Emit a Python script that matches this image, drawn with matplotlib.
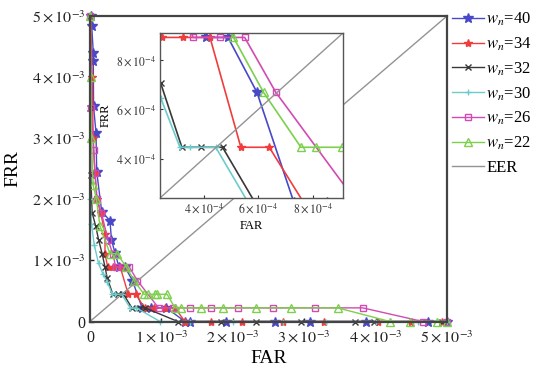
import matplotlib
matplotlib.use('Agg')
import matplotlib.pyplot as plt
import numpy as np

plt.rcParams['font.family'] = 'serif'
plt.rcParams['font.serif'] = ['Liberation Serif', 'DejaVu Serif']
plt.rcParams['mathtext.fontset'] = 'stix'

# values are in units of 1e-4
UNIT = 1e-4

far_40 = [0.1, 0.24, 0.46, 0.46, 0.5, 0.84, 0.94, 1.64, 2.8, 3.0, 3.5, 4.07, 4.89, 5.95, 7.3, 8.5, 10.7,
          13.3, 14.0, 19.0, 25.9, 30.8, 38.6, 47.4, 50.0]
frr_40 = [50, 48.4, 44, 42.6, 35.2, 30.9, 24.5, 18.0, 16.5, 13.4, 11.2, 8.92, 8.92, 6.69, 2.23, 2.23, 2.23,
          0, 0, 0, 0, 0, 0, 0, 0]

far_34 = [0.1, 0.3, 0.45, 0.7, 0.95, 1.5, 2.1, 2.1, 2.48, 3.25, 4.23, 5.36, 6.4, 7.65, 9.0, 10.5, 11.9,
          13.3, 16.9, 21.3, 27.0, 32.8, 40.3, 45.0, 49.3]
frr_34 = [50, 40, 30, 24.3, 20.0, 17.8, 14.3, 11.1, 8.92, 8.92, 8.92, 4.46, 4.46, 2.23, 2.23, 2.23, 2.23,
          0, 0, 0, 0, 0, 0, 0, 0]

far_32 = [0.02, 0.05, 0.1, 0.3, 0.8, 1.2, 1.7, 2.1, 2.42, 3.2, 3.9, 4.69, 5.87, 7.0, 7.7, 12.3, 18.4,
          23.3, 29.6, 37.1, 39.8, 49.3]
frr_32 = [50, 35, 24, 17.8, 15.6, 13.4, 11.1, 8.92, 7.08, 4.46, 4.46, 4.46, 2.23, 2.23, 2.23, 0, 0,
          0, 0, 0, 0, 0]

far_30 = [0.0, 0.02, 0.2, 0.6, 1.2, 1.8, 2.42, 3.13, 3.5, 4.44, 5.62, 6.5, 9.8, 14.0, 20.0, 27.0,
          33.0, 40.0, 46.0, 50.0]
frr_30 = [50, 20, 16, 12.5, 9.5, 7.8, 6.48, 4.46, 4.46, 4.46, 2.23, 2.23, 0, 0, 0, 0,
          0, 0, 0, 0]

far_26 = [0.05, 0.2, 0.5, 0.7, 1.0, 1.6, 2.5, 3.2, 3.6, 4.6, 5.5, 6.64, 9.6, 11.6, 14.0, 17.0, 20.7,
          25.6, 31.5, 38.2, 46.6, 50.0]
frr_26 = [50, 35, 28, 24.3, 20, 17.8, 13.4, 11.1, 8.92, 8.92, 8.92, 6.69, 2.23, 2.23, 2.23, 2.23, 2.23,
          2.23, 2.23, 2.23, 0, 0]

far_22 = [0.05, 0.1, 0.2, 0.45, 0.9, 1.4, 2.8, 3.8, 5.09, 6.19, 7.56, 8.1, 9.05, 9.4, 10.8, 11.9, 12.8,
          15.6, 18.6, 23.3, 28.2, 34.7, 42.0, 44.8, 48.6, 50.0]
frr_22 = [50, 40, 30, 22.3, 20.0, 15.6, 11.1, 11.1, 8.92, 6.69, 4.46, 4.46, 4.46, 4.46, 4.46, 2.23, 2.23,
          2.23, 2.23, 2.23, 2.23, 2.23, 0, 0, 0, 0]

labels = [r'$w_n$=40', r'$w_n$=34', r'$w_n$=32', r'$w_n$=30', r'$w_n$=26', r'$w_n$=22']

main_ticks = [0, 10, 20, 30, 40, 50]
main_tick_labels = ['0', r'$1\times10^{-3}$', r'$2\times10^{-3}$', r'$3\times10^{-3}$',
                    r'$4\times10^{-3}$', r'$5\times10^{-3}$']
inset_ticks = [4, 6, 8]
inset_tick_labels = [r'$4\times10^{-4}$', r'$6\times10^{-4}$', r'$8\times10^{-4}$']
inset_lim = [2.4, 9.1]

series = [
    (far_40, frr_40, dict(color='#4848c8', marker='*', ms=7, mfc='#4848c8')),
    (far_34, frr_34, dict(color='#f03c3c', marker='*', ms=6, mfc='#f03c3c')),
    (far_32, frr_32, dict(color='#383838', marker='x', ms=4.5, mew=1.0)),
    (far_30, frr_30, dict(color='#6ccccc', marker='+', ms=4, mew=1.0)),
    (far_26, frr_26, dict(color='#d24ab4', marker='s', ms=5, mfc='none', mew=1.0)),
    (far_22, frr_22, dict(color='#7cd04c', marker='^', ms=5.5, mfc='none', mew=1.0)),
]

fig = plt.figure(figsize=(5.4, 3.72), dpi=100)
ax = fig.add_axes([90 / 540, (372 - 321.5) / 372, 357 / 540, 305.5 / 372])

for (far, frr, style), lab in zip(series, labels):
    ax.plot(np.array(far) * UNIT, np.array(frr) * UNIT, lw=1.0, label=lab, clip_on=False, **style)
ax.plot([0, 5e-3], [0, 5e-3], color='#939393', lw=1.0, label='EER')

ax.set_xlim(0, 5e-3)
ax.set_ylim(0, 5e-3)
ax.set_xticks(np.array(main_ticks) * UNIT)
ax.set_xticklabels(main_tick_labels)
ax.set_yticks(np.array(main_ticks) * UNIT)
ax.set_yticklabels(main_tick_labels)
ax.tick_params(direction='in', length=3, width=1.0, labelsize=11.5, colors='#222222')
ax.tick_params(axis='x', pad=6)
ax.tick_params(axis='y', pad=3)
for s in ax.spines.values():
    s.set_linewidth(1.6)
    s.set_color('#444444')
ax.set_xlabel('FAR', fontsize=14, labelpad=3)
ax.set_ylabel('FRR', fontsize=14, labelpad=8)

ax.legend(loc='upper left', bbox_to_anchor=(0.995, 1.04), frameon=False, fontsize=12,
          handlelength=1.9, handletextpad=0.15, labelspacing=0.45, borderaxespad=0.0)

# zoomed inset
axi = fig.add_axes([160 / 540, (372 - 198) / 372, 183 / 540, 165 / 372])
axi.set_facecolor('white')
for (far, frr, style), lab in zip(series, labels):
    axi.plot(np.array(far) * UNIT, np.array(frr) * UNIT, lw=1.2, **style)
axi.plot([0, 5e-3], [0, 5e-3], color='#939393', lw=1.0)
axi.set_xlim(inset_lim[0] * UNIT, inset_lim[1] * UNIT)
axi.set_ylim(inset_lim[0] * UNIT, inset_lim[1] * UNIT)
axi.set_xticks(np.array(inset_ticks) * UNIT)
axi.set_xticklabels(inset_tick_labels)
axi.set_yticks(np.array(inset_ticks) * UNIT)
axi.set_yticklabels(inset_tick_labels)
axi.tick_params(direction='in', length=2.5, width=0.8, labelsize=8.5, pad=3, colors='#333333')
for s in axi.spines.values():
    s.set_linewidth(1.0)
    s.set_color('#555555')
axi.set_xlabel('FAR', fontsize=9, labelpad=3)
axi.set_ylabel('FRR', fontsize=9, labelpad=3)

fig.savefig('out.png', dpi=100)
